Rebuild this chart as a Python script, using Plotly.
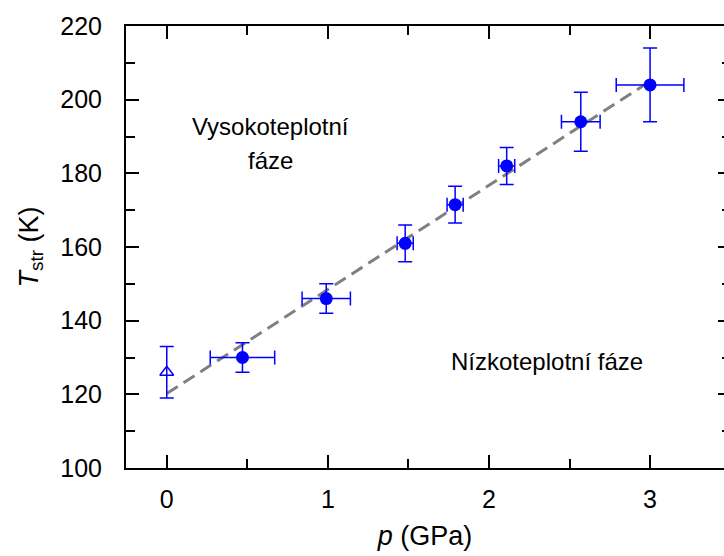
import plotly.graph_objects as go

# data
p_vals = [0.47, 0.99, 1.48, 1.79, 2.11, 2.57, 3.00]
p_err = [0.20, 0.15, 0.05, 0.05, 0.05, 0.12, 0.21]
T_vals = [130.0, 146.0, 161.0, 171.5, 182.0, 194.0, 204.0]
T_err = [4.0, 4.0, 5.0, 5.0, 5.0, 8.0, 10.0]

p0 = [0.0]
T0 = [126.0]
T0_err = [7.0]

fit_p = [0.0, 3.0]
fit_T = [120.2, 205.0]

x_ticks = [0, 1, 2, 3]
y_ticks = [100, 120, 140, 160, 180, 200, 220]

FONT = "Liberation Sans, Arial, sans-serif"
BLUE = "#0000ff"

fig = go.Figure()

fig.add_trace(go.Scatter(
    x=fit_p, y=fit_T, mode="lines",
    line=dict(color="#808080", width=3, dash="13px,7px"),
    showlegend=False, hoverinfo="skip"))

fig.add_trace(go.Scatter(
    x=p0, y=T0, mode="markers",
    marker=dict(symbol="triangle-up-open", size=12, color=BLUE, line=dict(width=1.5, color=BLUE)),
    error_y=dict(type="data", array=T0_err, color=BLUE, thickness=1.5, width=7),
    showlegend=False))

fig.add_trace(go.Scatter(
    x=p_vals, y=T_vals, mode="markers",
    marker=dict(symbol="circle", size=13, color=BLUE),
    error_y=dict(type="data", array=T_err, color=BLUE, thickness=1.5, width=7),
    error_x=dict(type="data", array=p_err, color=BLUE, thickness=1.5, width=7),
    showlegend=False))

# invisible trace to carry mirror axes
fig.add_trace(go.Scatter(x=[None], y=[None], xaxis="x2", yaxis="y2",
                         showlegend=False, hoverinfo="skip"))

xr = [-0.253, 3.459]
yr = [100, 220]
FS = 25
TFS = 27
AFS = 24

fig.update_layout(
    width=724, height=556,
    margin=dict(l=126, r=0, t=26, b=88),
    paper_bgcolor="white", plot_bgcolor="white",
    font=dict(family=FONT, size=FS, color="black"),
    xaxis=dict(range=xr, tickvals=x_ticks, ticktext=[str(v) for v in x_ticks],
               ticks="inside", ticklen=13, tickwidth=2, tickcolor="black",
               minor=dict(dtick=0.5, tick0=0, ticks="inside", ticklen=9, tickwidth=2, tickcolor="black"),
               showline=True, linewidth=2, linecolor="black", showgrid=False, zeroline=False,
               ticklabelstandoff=8,
               title=dict(text="<i>p</i> (GPa)", standoff=14, font=dict(size=TFS)),
               tickfont=dict(size=FS)),
    yaxis=dict(range=yr, tickvals=y_ticks, ticktext=[str(v) for v in y_ticks],
               ticks="inside", ticklen=13, tickwidth=2, tickcolor="black",
               minor=dict(dtick=10, tick0=100, ticks="inside", ticklen=9, tickwidth=2, tickcolor="black"),
               showline=True, linewidth=2, linecolor="black", showgrid=False, zeroline=False,
               ticklabelstandoff=17,
               title=dict(text="<i>T</i><sub>str</sub> (K)", standoff=14, font=dict(size=TFS)),
               tickfont=dict(size=FS)),
    xaxis2=dict(range=xr, overlaying="x", side="top", anchor="y2",
                tickvals=x_ticks, showticklabels=False,
                ticks="inside", ticklen=13, tickwidth=2, tickcolor="black",
                minor=dict(dtick=0.5, tick0=0, ticks="inside", ticklen=9, tickwidth=2, tickcolor="black"),
                showline=True, linewidth=2, linecolor="black", showgrid=False, zeroline=False),
    yaxis2=dict(range=yr, overlaying="y", side="right", anchor="x2",
                tickvals=y_ticks, showticklabels=False,
                ticks="inside", ticklen=6, tickwidth=2, tickcolor="black",
                minor=dict(dtick=10, tick0=100, ticks="inside", ticklen=2, tickwidth=2, tickcolor="black"),
                showline=False, showgrid=False, zeroline=False),
    annotations=[
        dict(x=0.647, y=192.6, xref="x", yref="y", text="Vysokoteplotní",
             showarrow=False, font=dict(size=AFS, family=FONT)),
        dict(x=0.647, y=183.6, xref="x", yref="y", text="fáze",
             showarrow=False, font=dict(size=AFS, family=FONT)),
        dict(x=2.362, y=129.05, xref="x", yref="y", text="Nízkoteplotní fáze",
             showarrow=False, font=dict(size=AFS, family=FONT)),
    ],
)

fig.write_html("out.html")
